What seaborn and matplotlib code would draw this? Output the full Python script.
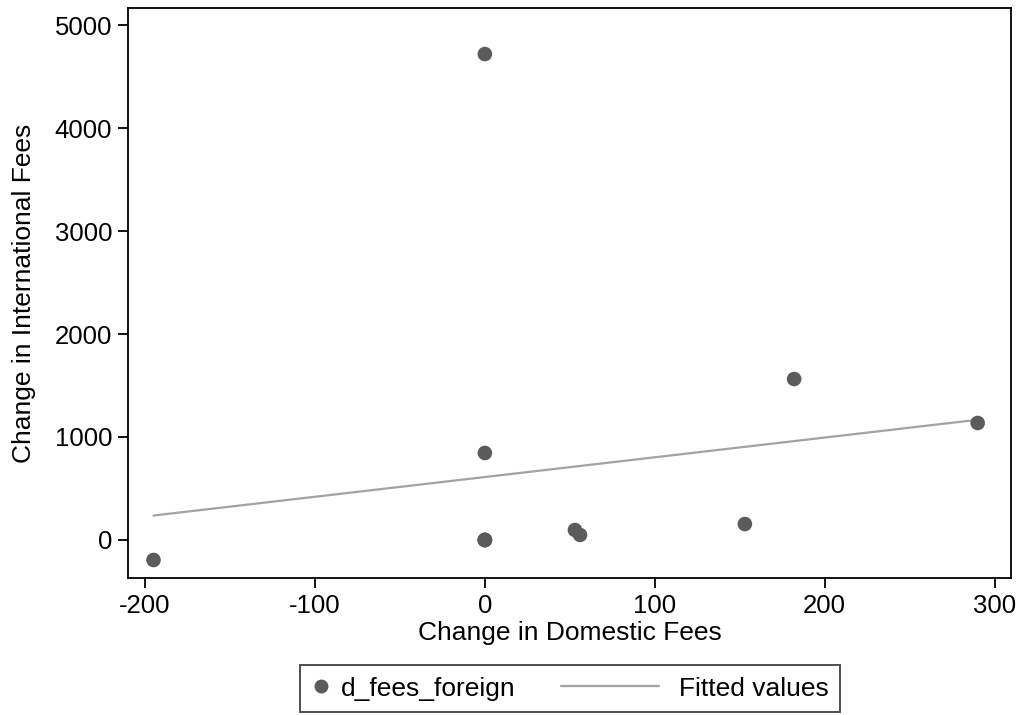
import matplotlib
matplotlib.use("Agg")
import matplotlib.pyplot as plt
import seaborn as sns
import pandas as pd
from matplotlib.lines import Line2D
from matplotlib.legend_handler import HandlerLine2D

sns.set_style("white")
plt.rcParams["font.family"] = ["Liberation Sans", "DejaVu Sans"]
plt.rcParams["axes.unicode_minus"] = False
for key in ["text.color", "axes.labelcolor", "xtick.color", "ytick.color"]:
    plt.rcParams[key] = "black"

# Change in fees by institution
d_fees_domestic = [-195, 0, 0, 0, 0, 0, 0, 53, 56, 153, 182, 290]
d_fees_foreign = [-194, 4718, 845, 0, 0, 0, 0, 97, 49, 155, 1563, 1136]
legend_labels = ["d_fees_foreign", "Fitted values"]

df = pd.DataFrame({"d_fees_domestic": d_fees_domestic,
                   "d_fees_foreign": d_fees_foreign})

marker_color = "#5b5b5b"
line_color = "#a3a3a3"
FS = 19
TICK_FS = 18.5


class MarkerHandler(HandlerLine2D):
    """Single marker placed near the left of a short handle."""
    def get_xdata(self, legend, xdescent, ydescent, width, height, fontsize):
        xdata = [-xdescent, -xdescent + width]
        return xdata, [-xdescent - 0.05 * width]


class LongLineHandler(HandlerLine2D):
    """Line sample reaching further left than the handle box."""
    def get_xdata(self, legend, xdescent, ydescent, width, height, fontsize):
        end = -xdescent + width - 0.34 * fontsize
        xdata = [end - 3.7 * fontsize, end]
        return xdata, [end]


fig = plt.figure(figsize=(10.2, 7.15), dpi=100)
ax = fig.add_axes([0.1255, 0.1916, 0.8655, 0.7972])

sns.regplot(data=df, x="d_fees_domestic", y="d_fees_foreign", ax=ax,
            scatter=False, ci=None, color=line_color,
            line_kws={"linewidth": 1.6, "zorder": 2})
sns.scatterplot(data=df, x="d_fees_domestic", y="d_fees_foreign", ax=ax,
                color=marker_color, s=110, edgecolor="none", zorder=3)

ax.set_xlim(-210, 309.5)
ax.set_ylim(-369, 5165)
ax.set_xticks([-200, -100, 0, 100, 200, 300])
ax.set_yticks([0, 1000, 2000, 3000, 4000, 5000])

ax.set_xlabel("Change in Domestic Fees", fontsize=FS, labelpad=2)
ax.set_ylabel("Change in International Fees", fontsize=FS, labelpad=13)
ax.tick_params(axis="both", which="major", direction="out", length=7.5,
               width=1.3, labelsize=TICK_FS, color="black", pad=4,
               bottom=True, left=True)
for side in ["left", "bottom", "top", "right"]:
    ax.spines[side].set_visible(True)
    ax.spines[side].set_color("black")
    ax.spines[side].set_linewidth(1.3)

marker_handle = Line2D([0], [0], marker="o", linestyle="none", markersize=10,
                       markerfacecolor=marker_color, markeredgecolor="none")
line_handle = Line2D([0], [0], color=line_color, linewidth=1.6)
leg = fig.legend([marker_handle, line_handle], legend_labels, ncol=2,
                 loc="center", bbox_to_anchor=(0.5588, 0.037),
                 frameon=True, fancybox=False, fontsize=FS,
                 handlelength=0.72, handletextpad=0.4, columnspacing=5.05,
                 borderpad=0.45, numpoints=1,
                 handler_map={marker_handle: MarkerHandler(),
                              line_handle: LongLineHandler()})
leg.get_frame().set_edgecolor("#222222")
leg.get_frame().set_linewidth(1.4)

fig.savefig("out.png", dpi=100)
